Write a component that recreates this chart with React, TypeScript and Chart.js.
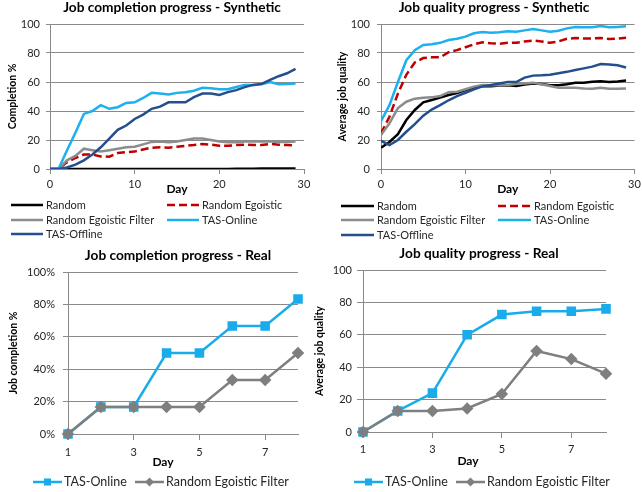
import React, { useEffect, useRef } from "react";
import { Chart, registerables } from "chart.js";

Chart.register(...registerables);

const FONT = "Lato, 'Open Sans', sans-serif";
Chart.defaults.font.family = FONT;

// ---------------- data ----------------
const synthDays = [0, 1, 2, 3, 4, 5, 6, 7, 8, 9, 10, 11, 12, 13, 14, 15, 16, 17, 18, 19, 20, 21, 22, 23, 24, 25, 26, 27, 28, 29];
const synthTicks = [0, 10, 20, 30];

const complRandom = [0, 0, 0, 0, 0, 0, 0, 0, 0, 0, 0, 0, 0, 0, 0, 0, 0, 0, 0, 0, 0, 0, 0.2, 0.2, 0.2, 0.3, 0.3, 0.3, 0.3, 0.3];
const complRandEgo = [0, 0, 4.6, 7.6, 10, 10, 8.7, 8.5, 11, 11.7, 12, 13.5, 14.7, 15, 14.7, 15.4, 16, 16.5, 17.3, 16.8, 16, 16, 16.5, 16.8, 16.5, 16.5, 17.3, 16.8, 16.5, 16.3];
const complRandEgoFilter = [0, 0, 6, 9, 14, 13, 12, 13, 14, 15, 15.4, 17, 18.7, 19, 18.5, 19, 20, 21, 21, 20, 19, 18.5, 18.5, 19, 19, 19, 19, 18.7, 18.7, 19];
const complTasOnline = [0, 0, 12.7, 25, 38, 40, 44, 41.5, 42.6, 45.6, 46, 49, 52.5, 52, 51.4, 52.5, 53, 54, 56, 55.7, 55, 55, 56.5, 58, 58, 58.5, 60, 58.5, 58.7, 59];
const complTasOffline = [0, 0, 1, 3, 6, 10, 15, 21, 27, 30, 34.5, 37.5, 41.5, 43, 46, 46, 46, 49.5, 52, 52, 51, 53, 54.4, 56.5, 58, 58.7, 61.5, 64, 66, 69];

const qualRandom = [14.7, 18.6, 24, 33.8, 40.7, 46, 47.6, 49.2, 51, 52.4, 54.5, 56, 57, 57, 57.5, 57.7, 57.3, 58.2, 59, 58.6, 57.7, 57.7, 58.4, 59.5, 59.5, 60.2, 60.5, 60, 60.4, 61];
const qualRandEgo = [24.6, 36, 52, 65, 73.5, 76.5, 77, 77, 80.5, 82, 84, 86, 87.4, 86.7, 86.4, 87, 87, 88, 88.6, 88, 87, 88, 89.8, 90.3, 90, 90, 90.3, 89.6, 90, 90.5];
const qualRandEgoFilter = [23.4, 31.5, 42, 46.4, 48.5, 49.2, 49.4, 50.3, 53, 53.3, 55, 56.8, 58, 57.7, 57.7, 58, 58.6, 59, 59.5, 58.4, 57.2, 56, 56, 56, 55.6, 55.4, 56, 55.4, 55.4, 55.6];
const qualTasOnline = [33, 44, 60, 75, 82, 85.5, 86, 87, 89, 89.8, 91.3, 93.6, 94.5, 94, 94.3, 95, 94.7, 95.6, 96.5, 95.6, 94.7, 95.4, 97, 98, 97.7, 97.7, 98.6, 97.7, 98, 98.4];
const qualTasOffline = [19.5, 16.5, 20, 25.7, 31, 36.8, 41, 44, 47.4, 50.3, 52.6, 55, 57, 58, 59, 60, 60, 63, 64.4, 64.6, 65, 66, 67, 68.3, 69.4, 70.6, 72.4, 72, 71.5, 70];

const realDays = [1, 2, 3, 4, 5, 6, 7, 8];
const realTicks = [1, 3, 5, 7];
const realComplTasOnline = [0, 0.167, 0.167, 0.5, 0.5, 0.667, 0.667, 0.833];
const realComplRandEgoFilter = [0, 0.167, 0.167, 0.167, 0.167, 0.333, 0.333, 0.5];
const realQualTasOnline = [0, 13, 24, 60, 72.5, 74.5, 74.5, 76];
const realQualRandEgoFilter = [0, 13, 13, 14.5, 23.5, 50, 45, 36];

// ---------------- styles ----------------
const BLACK = "#000000";
const RED = "#C00000";
const GRAY = "#8C8C8C";
const LBLUE = "#1CB0EE";
const DBLUE = "#254F8C";
const GRAY2 = "#7F7F7F";
const LBLUE2 = "#1AACEA";
const GRID = "#8A8A8A";
const TICK = "#262626";

// ---------------- plugins ----------------
const gridLegend = {
  id: "gridLegend",
  afterDraw(chart: any, _args: any, opts: any) {
    if (!opts || !opts.items) return;
    const ctx = chart.ctx;
    ctx.save();
    ctx.font = `${opts.fontSize}px ${FONT}`;
    ctx.textBaseline = "middle";
    ctx.textAlign = "left";
    chart.data.datasets.forEach((ds: any, i: number) => {
      const it = opts.items[i];
      if (!it) return;
      const x = it.x;
      const y = it.y;
      ctx.strokeStyle = ds.borderColor;
      ctx.lineWidth = ds.borderWidth;
      ctx.setLineDash(ds.borderDash || []);
      ctx.beginPath();
      ctx.moveTo(x, y);
      ctx.lineTo(x + opts.lineLen, y);
      ctx.stroke();
      ctx.setLineDash([]);
      if (ds.pointRadius) {
        const cx = x + opts.lineLen / 2;
        const r = ds.pointRadius;
        ctx.fillStyle = ds.pointBackgroundColor;
        ctx.beginPath();
        if (ds.pointStyle === "rectRot") {
          ctx.moveTo(cx, y - r);
          ctx.lineTo(cx + r, y);
          ctx.lineTo(cx, y + r);
          ctx.lineTo(cx - r, y);
          ctx.closePath();
        } else {
          const s = r * Math.SQRT1_2;
          ctx.rect(cx - s, y - s, 2 * s, 2 * s);
        }
        ctx.fill();
      }
      ctx.fillStyle = opts.color;
      ctx.fillText(ds.label, x + opts.lineLen + opts.gap, y);
    });
    ctx.restore();
  },
};

const texts = {
  id: "texts",
  afterDraw(chart: any, _args: any, opts: any) {
    if (!opts || !opts.items) return;
    const ctx = chart.ctx;
    ctx.save();
    ctx.textAlign = "center";
    ctx.textBaseline = "middle";
    for (const it of opts.items) {
      ctx.font = `bold ${it.size}px ${FONT}`;
      ctx.fillStyle = "#000";
      ctx.fillText(it.text, it.x, it.y);
    }
    ctx.restore();
  },
};

const fixY = (w: number) => (scale: any) => {
  scale.width = w;
  scale.paddingTop = 0;
  scale.paddingBottom = 0;
  scale.paddingLeft = 0;
  scale.paddingRight = 0;
};
const fixX = (h: number) => (scale: any) => {
  scale.height = h;
  scale.paddingTop = 0;
  scale.paddingBottom = 0;
  scale.paddingLeft = 0;
  scale.paddingRight = 0;
};
const keepTicks = (values: number[]) => (scale: any) => {
  scale.ticks = values.map((v) => ({ value: v }));
};

function synthDatasets(series: number[][]) {
  const labels = ["Random", "Random Egoistic", "Random Egoistic Filter", "TAS-Online", "TAS-Offline"];
  const colors = [BLACK, RED, GRAY, LBLUE, DBLUE];
  return series.map((data, i) => ({
    label: labels[i],
    data,
    borderColor: colors[i],
    backgroundColor: colors[i],
    borderWidth: 2.5,
    borderDash: i === 1 ? [8, 4] : [],
    pointRadius: 0,
    tension: 0,
    order: 4 - i,
  }));
}

function realDatasets(online: number[], filter: number[]) {
  return [
    {
      label: "TAS-Online",
      data: online,
      borderColor: LBLUE2,
      backgroundColor: LBLUE2,
      pointBackgroundColor: LBLUE2,
      pointBorderColor: LBLUE2,
      pointStyle: "rect",
      pointRadius: 5,
      borderWidth: 2.5,
      clip: false,
      order: 1,
    },
    {
      label: "Random Egoistic Filter",
      data: filter,
      borderColor: GRAY2,
      backgroundColor: GRAY2,
      pointBackgroundColor: GRAY2,
      pointBorderColor: GRAY2,
      pointStyle: "rectRot",
      pointRadius: 4.5,
      borderWidth: 2.5,
      clip: false,
      order: 0,
    },
  ];
}

type P = {
  labels: number[];
  datasets: any[];
  title: { text: string; x: number; y: number };
  layoutPad: { left: number; right: number; top: number; bottom: number };
  yWidth: number;
  yTitle: string;
  yTitlePadTop: number;
  yMax: number;
  yStep: number;
  yTickLen: number;
  yTickPad: number;
  yFormat?: (v: number) => string;
  xMin: number;
  xMax: number;
  xTicks: number[];
  xHeight: number;
  xTickLen: number;
  xTickPad: number;
  xTitle?: { text: string; padBottom: number };
  dayLabel?: { text: string; x: number; y: number };
  legend: { items: { x: number; y: number }[]; fontSize: number; lineLen: number; gap: number };
};

function makeConfig(p: P): any {
  const textItems: any[] = [{ ...p.title, size: 13.7 }];
  if (p.dayLabel) textItems.push({ ...p.dayLabel, size: 12 });
  return {
    type: "line",
    data: { labels: p.labels, datasets: p.datasets },
    plugins: [gridLegend, texts],
    options: {
      responsive: false,
      animation: false,
      devicePixelRatio: 1,
      layout: { padding: p.layoutPad },
      plugins: {
        legend: { display: false },
        tooltip: { enabled: false },
        title: { display: false },
        gridLegend: { ...p.legend, color: TICK },
        texts: { items: textItems },
      },
      scales: {
        x: {
          type: "linear",
          min: p.xMin,
          max: p.xMax,
          afterBuildTicks: keepTicks(p.xTicks),
          ticks: { padding: p.xTickPad, color: TICK, font: { family: FONT, size: 11 }, maxRotation: 0 },
          grid: { drawOnChartArea: false, drawTicks: true, tickLength: p.xTickLen, color: GRID },
          border: { color: GRID, width: 1 },
          title: p.xTitle
            ? {
                display: true,
                text: p.xTitle.text,
                color: "#000",
                font: { family: FONT, size: 12, weight: "bold", lineHeight: 1.2 },
                padding: { top: 0, bottom: p.xTitle.padBottom },
              }
            : { display: false },
          afterFit: fixX(p.xHeight),
        },
        y: {
          min: 0,
          max: p.yMax,
          ticks: {
            stepSize: p.yStep,
            padding: p.yTickPad,
            color: TICK,
            font: { family: FONT, size: 11 },
            callback: p.yFormat ? (v: any) => p.yFormat!(Number(v)) : (v: any) => String(v),
          },
          grid: { color: GRID, drawTicks: true, tickLength: p.yTickLen },
          border: { color: GRID, width: 1 },
          title: {
            display: true,
            text: p.yTitle,
            color: "#000",
            font: { family: FONT, size: 10.5, weight: "bold", lineHeight: 1.2 },
            padding: { top: p.yTitlePadTop, bottom: 0 },
          },
          afterFit: fixY(p.yWidth),
        },
      },
    },
  };
}

function ChartBox({ left, top, width, height, config }: any) {
  const ref = useRef<HTMLCanvasElement>(null);
  useEffect(() => {
    const chart = new Chart(ref.current as HTMLCanvasElement, config);
    return () => chart.destroy();
  }, []);
  return (
    <div style={{ position: "absolute", left, top, width, height }}>
      <canvas ref={ref} width={width} height={height} style={{ width, height, display: "block" }} />
    </div>
  );
}

const pct = (v: number) => Math.round(v * 100) + "%";

export default function App() {
  const tl = makeConfig({
    labels: synthDays,
    datasets: synthDatasets([complRandom, complRandEgo, complRandEgoFilter, complTasOnline, complTasOffline]),
    title: { text: "Job completion progress - Synthetic", x: 172, y: 8 },
    layoutPad: { left: 0, right: 17, top: 24, bottom: 48 },
    yWidth: 50,
    yTitle: "Completion %",
    yTitlePadTop: 6.2,
    yMax: 100,
    yStep: 20,
    yTickLen: 4,
    yTickPad: 6,
    xMin: 0,
    xMax: 30,
    xTicks: synthTicks,
    xHeight: 29,
    xTickLen: 5,
    xTickPad: 4,
    xTitle: { text: "Day", padBottom: 1.8 },
    legend: {
      items: [
        { x: 11, y: 205 },
        { x: 167, y: 205 },
        { x: 11, y: 220 },
        { x: 167, y: 220 },
        { x: 11, y: 234 },
      ],
      fontSize: 11,
      lineLen: 32,
      gap: 3,
    },
  });

  const tr = makeConfig({
    labels: synthDays,
    datasets: synthDatasets([qualRandom, qualRandEgo, qualRandEgoFilter, qualTasOnline, qualTasOffline]),
    title: { text: "Job quality progress - Synthetic", x: 176, y: 7.5 },
    layoutPad: { left: 0, right: 7.5, top: 24, bottom: 48 },
    yWidth: 63,
    yTitle: "Average job quality",
    yTitlePadTop: 18.7,
    yMax: 100,
    yStep: 20,
    yTickLen: 4,
    yTickPad: 7,
    xMin: 0,
    xMax: 30,
    xTicks: synthTicks,
    xHeight: 29,
    xTickLen: 5,
    xTickPad: 4,
    xTitle: { text: "Day", padBottom: 1.8 },
    legend: {
      items: [
        { x: 23, y: 206 },
        { x: 180, y: 206 },
        { x: 23, y: 220 },
        { x: 180, y: 220 },
        { x: 23, y: 235 },
      ],
      fontSize: 11,
      lineLen: 33,
      gap: 3,
    },
  });

  const bl = makeConfig({
    labels: realDays,
    datasets: realDatasets(realComplTasOnline, realComplRandEgoFilter),
    title: { text: "Job completion progress - Real", x: 178, y: 10 },
    layoutPad: { left: 0, right: 23, top: 26, bottom: 22 },
    yWidth: 68,
    yTitle: "Job completion %",
    yTitlePadTop: 7.7,
    yMax: 1,
    yStep: 0.2,
    yTickLen: 5,
    yTickPad: 8,
    yFormat: pct,
    xMin: 1,
    xMax: 8,
    xTicks: realTicks,
    xHeight: 36,
    xTickLen: 6,
    xTickPad: 6,
    dayLabel: { text: "Day", x: 163, y: 216 },
    legend: {
      items: [
        { x: 33, y: 236 },
        { x: 135, y: 236 },
      ],
      fontSize: 12.5,
      lineLen: 29,
      gap: 2,
    },
  });

  const br = makeConfig({
    labels: realDays,
    datasets: realDatasets(realQualTasOnline, realQualRandEgoFilter),
    title: { text: "Job quality progress - Real", x: 169, y: 8 },
    layoutPad: { left: 0, right: 36, top: 24, bottom: 24 },
    yWidth: 53,
    yTitle: "Average job quality",
    yTitlePadTop: 3.7,
    yMax: 100,
    yStep: 20,
    yTickLen: 6,
    yTickPad: 5,
    xMin: 1,
    xMax: 8,
    xTicks: realTicks,
    xHeight: 36,
    xTickLen: 6,
    xTickPad: 5,
    dayLabel: { text: "Day", x: 158, y: 215 },
    legend: {
      items: [
        { x: 44, y: 236 },
        { x: 146, y: 236 },
      ],
      fontSize: 12.5,
      lineLen: 29,
      gap: 2,
    },
  });

  return (
    <div style={{ position: "absolute", left: 0, top: 0, width: 642, height: 492, background: "#fff" }}>
      <ChartBox left={0} top={0} width={321} height={246} config={tl} />
      <ChartBox left={318} top={0} width={324} height={246} config={tr} />
      <ChartBox left={0} top={246} width={321} height={246} config={bl} />
      <ChartBox left={310} top={246} width={332} height={246} config={br} />
    </div>
  );
}
